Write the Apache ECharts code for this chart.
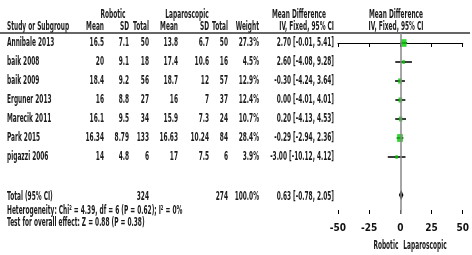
<!DOCTYPE html>
<html>
<head>
<meta charset="utf-8">
<script src="https://cdn.jsdelivr.net/npm/echarts@6/dist/echarts.min.js"></script>
<style>
  html, body { margin: 0; padding: 0; background: #fff; }
  #forest { width: 472px; height: 255px; }
</style>
</head>
<body>
<div id="forest"></div>
<script>
// study rows
var studies = ["Annibale 2013", "baik 2008", "baik 2009", "Erguner 2013", "Marecik 2011", "Park 2015", "pigazzi 2006"];
var robMean = [16.5, 20, 18.4, 16, 16.1, 16.34, 14];
var robSD = [7.1, 9.1, 9.2, 8.8, 9.5, 8.79, 4.8];
var robTotal = [50, 18, 56, 27, 34, 133, 6];
var lapMean = [13.8, 17.4, 18.7, 16, 15.9, 16.63, 17];
var lapSD = [6.7, 10.6, 12, 7, 7.3, 10.24, 7.5];
var lapTotal = [50, 16, 57, 37, 24, 84, 6];
var weight = [27.3, 4.5, 12.9, 12.4, 10.7, 28.4, 3.9];
var md = [2.70, 2.60, -0.30, 0.00, 0.20, -0.29, -3.00];
var ciLow = [-0.01, -4.08, -4.24, -4.01, -4.13, -2.94, -10.12];
var ciHigh = [5.41, 9.28, 3.64, 4.01, 4.53, 2.36, 4.12];
// pooled result
var totalRob = 324;
var totalLap = 274;
var totalWeight = 100.0;
var totalMd = 0.63;
var totalLow = -0.78;
var totalHigh = 2.05;
var xTicks = [-50, -25, 0, 25, 50];

var FONT = 'bold 13px "Liberation Sans Narrow", "DejaVu Sans Condensed", sans-serif';
var SQUEEZE = 0.5;
var TOTAL_ROW = 8;

var myChart = echarts.init(document.getElementById("forest"));

function ciText(m, l, h) {
  return m.toFixed(2) + " [" + l.toFixed(2) + ", " + h.toFixed(2) + "]";
}

var option = {
  animation: false,
  grid: { left: 338, right: 9, top: 33, bottom: 41 },
  xAxis: [
    {
      type: "value",
      min: xTicks[0],
      max: xTicks[xTicks.length - 1],
      interval: 25,
      axisLine: { lineStyle: { color: "#000", width: 1 } },
      axisTick: { show: true, length: 4, lineStyle: { color: "#000" } },
      axisLabel: { color: "#111", fontFamily: "DejaVu Sans Condensed", fontWeight: "bold", fontSize: 10, margin: 9 },
      splitLine: { show: false }
    },
    {
      // upward half of the crossing ticks
      type: "value",
      position: "bottom",
      min: xTicks[0],
      max: xTicks[xTicks.length - 1],
      interval: 25,
      axisLine: { show: false },
      axisTick: { show: true, inside: true, length: 4, lineStyle: { color: "#000" } },
      axisLabel: { show: false },
      splitLine: { show: false }
    }
  ],
  yAxis: {
    type: "value",
    inverse: true,
    min: -0.526,
    max: 9,
    show: false
  },
  series: [
    {
      // confidence intervals
      type: "custom",
      data: studies.map(function (s, i) { return [ciLow[i], ciHigh[i], i]; }),
      renderItem: function (params, api) {
        var a = api.coord([api.value(0), api.value(2)]);
        var b = api.coord([api.value(1), api.value(2)]);
        return {
          type: "line",
          shape: { x1: a[0], y1: a[1], x2: b[0], y2: b[1] },
          style: { stroke: "#3c3c3c", lineWidth: 2 }
        };
      },
      z: 2,
      markLine: {
        silent: true,
        symbol: "none",
        label: { show: false },
        lineStyle: { color: "#888", width: 1.5, type: "solid" },
        data: [{ xAxis: 0 }]
      }
    },
    {
      // study estimates
      type: "scatter",
      symbol: "rect",
      data: studies.map(function (s, i) { return [md[i], i, weight[i]]; }),
      symbolSize: function (v) { return [2 + v[2] * 0.13, 3 + v[2] * 0.17]; },
      itemStyle: { color: "#00cc00" },
      z: 3
    },
    {
      // pooled diamond
      type: "custom",
      data: [[totalLow, totalHigh, totalMd, TOTAL_ROW]],
      renderItem: function (params, api) {
        var l = api.coord([api.value(0), api.value(3)]);
        var h = api.coord([api.value(1), api.value(3)]);
        var m = api.coord([api.value(2), api.value(3)]);
        return {
          type: "polygon",
          shape: { points: [[l[0] - 0.5, l[1]], [m[0], m[1] - 5], [h[0] + 0.5, h[1]], [m[0], m[1] + 5]] },
          style: { fill: "#000" }
        };
      },
      z: 3
    }
  ]
};

myChart.setOption(option);

// table text
function txt(s, x, y, align) {
  return {
    type: "text",
    x: x,
    y: y,
    scaleX: SQUEEZE,
    silent: true,
    style: {
      text: String(s),
      font: FONT,
      fill: "#1a1a1a",
      textAlign: align || "right",
      textVerticalAlign: "middle",
      align: align || "right",
      verticalAlign: "middle"
    }
  };
}

function rowY(r) {
  return myChart.convertToPixel({ yAxisIndex: 0 }, r);
}

var cols = { rm: 104, rs: 129, rt: 149, lm: 178, ls: 209, lt: 228, w: 259, ci: 334 };
var g = [];
g.push(txt("Robotic", 113, 15, "center"));
g.push(txt("Laparoscopic", 187, 15, "center"));
g.push(txt("Mean Difference", 299, 15, "center"));
g.push(txt("Mean Difference", 396, 15, "center"));
g.push(txt("Study or Subgroup", 7, 27, "left"));
g.push(txt("Mean", cols.rm, 27));
g.push(txt("SD", cols.rs, 27));
g.push(txt("Total", cols.rt, 27));
g.push(txt("Mean", cols.lm, 27));
g.push(txt("SD", cols.ls, 27));
g.push(txt("Total", cols.lt, 27));
g.push(txt("Weight", cols.w, 27));
g.push(txt("IV, Fixed, 95% CI", cols.ci, 27));
g.push(txt("IV, Fixed, 95% CI", 396, 27, "center"));
g.push({
  type: "line",
  silent: true,
  shape: { x1: 0, y1: 33, x2: 470, y2: 33 },
  style: { stroke: "#333", lineWidth: 1.5 }
});

studies.forEach(function (s, i) {
  var y = rowY(i);
  g.push(txt(s, 7, y, "left"));
  g.push(txt(robMean[i], cols.rm, y));
  g.push(txt(robSD[i], cols.rs, y));
  g.push(txt(robTotal[i], cols.rt, y));
  g.push(txt(lapMean[i], cols.lm, y));
  g.push(txt(lapSD[i], cols.ls, y));
  g.push(txt(lapTotal[i], cols.lt, y));
  g.push(txt(weight[i].toFixed(1) + "%", cols.w, y));
  g.push(txt(ciText(md[i], ciLow[i], ciHigh[i]), cols.ci, y));
});

var ty = rowY(TOTAL_ROW) + 2;
g.push(txt("Total (95% CI)", 7, ty, "left"));
g.push(txt(totalRob, cols.rt, ty));
g.push(txt(totalLap, cols.lt, ty));
g.push(txt(totalWeight.toFixed(1) + "%", cols.w, ty));
g.push(txt(ciText(totalMd, totalLow, totalHigh), cols.ci, ty));
g.push(txt("Heterogeneity: Chi\u00b2 = 4.39, df = 6 (P = 0.62); I\u00b2 = 0%", 7, 211, "left"));
g.push(txt("Test for overall effect: Z = 0.88 (P = 0.38)", 7, 223, "left"));

var zeroX = myChart.convertToPixel({ xAxisIndex: 0 }, 0);
g.push(txt("Robotic", zeroX - 2, 246, "right"));
g.push(txt("Laparoscopic", zeroX + 3, 246, "left"));

myChart.setOption({ graphic: g });
</script>
</body>
</html>
